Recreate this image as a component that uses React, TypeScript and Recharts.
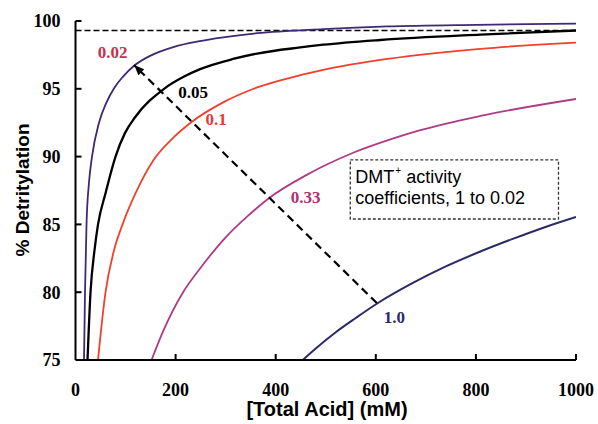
import React from 'react';
import { LineChart, Line, XAxis, YAxis, ReferenceLine, ReferenceDot, ReferenceArea, Label } from 'recharts';

const xTicks = [0, 200, 400, 600, 800, 1000];
const yTicks = [75, 80, 85, 90, 95, 100];

const x002 = [17, 19, 22, 27, 33, 47, 62, 78, 95, 117, 150, 197, 245, 295, 363, 495, 623, 800, 1000];
const y002 = [75, 80, 85, 88.1, 90, 92.5, 94.0, 95.1, 95.9, 96.7, 97.45, 98.1, 98.5, 98.8, 99.1, 99.4, 99.6, 99.72, 99.8];

const x005 = [24, 30, 38, 45, 60, 80, 99, 119, 177, 217, 249, 315, 363, 449, 495, 609, 809, 1000];
const y005 = [75, 80, 83.1, 85, 87.3, 90, 91.75, 92.9, 95.0, 95.9, 96.45, 97.2, 97.6, 98.05, 98.25, 98.6, 99.0, 99.3];

const x01 = [45, 60, 77, 94, 120, 155, 190, 232, 295, 363, 449, 495, 623, 809, 1000];
const y01 = [75, 80, 83.1, 85, 87.3, 89.7, 91.2, 92.55, 94.0, 95.1, 96.0, 96.4, 97.2, 97.95, 98.4];

const x033 = [152, 176, 215, 250, 300, 345, 389, 462, 556, 629, 689, 809, 1000];
const y033 = [75, 77.2, 80.0, 81.8, 84.05, 85.65, 87.0, 88.65, 90.3, 91.27, 91.95, 93.0, 94.25];

const x10 = [454, 480, 520, 560, 602, 675, 740, 809, 875, 942, 1000];
const y10 = [75, 75.85, 77.05, 78.1, 79.15, 80.7, 81.9, 83.0, 83.95, 84.85, 85.55];

const plateau = 99.3;
const arrowFrom = { x: 602, y: 79.2 };
const arrowTo = { x: 117, y: 96.75 };

const curveLabels = [
  { text: '0.02', x: 74, y: 97.7, color: '#C8304E' },
  { text: '0.05', x: 235, y: 94.7, color: '#000000' },
  { text: '0.1', x: 281, y: 92.7, color: '#E8383A' },
  { text: '0.33', x: 460, y: 87.0, color: '#B0306E' },
  { text: '1.0', x: 637, y: 78.1, color: '#2B2B6B' },
];

const boxX = [549, 965];
const boxY = [85.4, 89.76];

const toPts = (xs: number[], ys: number[]) => xs.map((x, i) => ({ x, y: ys[i] }));

const series = [
  { name: '0.02', data: toPts(x002, y002), color: '#3E2A72', w: 1.8 },
  { name: '0.05', data: toPts(x005, y005), color: '#000000', w: 2.3 },
  { name: '0.1', data: toPts(x01, y01), color: '#F0402C', w: 1.8 },
  { name: '0.33', data: toPts(x033, y033), color: '#B03A88', w: 1.8 },
  { name: '1.0', data: toPts(x10, y10), color: '#2A2A66', w: 2 },
];

const X_MARGIN = 23;
const Y_MARGIN = 15;
const TICK_LEN = 6;

const XTick = (p: any) => {
  const { x, y, payload } = p;
  const axisY = y - X_MARGIN;
  return (
    <g>
      {payload.value !== 0 && (
        <line x1={x} x2={x} y1={axisY} y2={axisY - TICK_LEN} stroke="#000" strokeWidth={2} />
      )}
      <text x={x} y={y} dy="0.71em" textAnchor="middle" fontFamily="Liberation Serif" fontWeight={700} fontSize={18} fill="#000">
        {payload.value}
      </text>
    </g>
  );
};

const YTick = (p: any) => {
  const { x, y, payload } = p;
  const axisX = x + Y_MARGIN;
  return (
    <g>
      {payload.value !== 75 && (
        <line x1={axisX} x2={axisX + TICK_LEN} y1={y} y2={y} stroke="#000" strokeWidth={2} />
      )}
      <text x={x} y={y} dy="0.355em" textAnchor="end" fontFamily="Liberation Serif" fontWeight={700} fontSize={18} fill="#000">
        {payload.value}
      </text>
    </g>
  );
};

const ArrowShape = (p: any) => {
  const { x1, y1, x2, y2 } = p;
  const ang = Math.atan2(y2 - y1, x2 - x1);
  const len = 11;
  const spread = 0.38;
  const ax = x2 - len * Math.cos(ang - spread);
  const ay = y2 - len * Math.sin(ang - spread);
  const bx = x2 - len * Math.cos(ang + spread);
  const by = y2 - len * Math.sin(ang + spread);
  return (
    <g>
      <line x1={x1} y1={y1} x2={x2} y2={y2} stroke="#000" strokeWidth={2.2} strokeDasharray="8 5" />
      <path d={`M${x2},${y2} L${ax},${ay} L${bx},${by} Z`} fill="#000" />
    </g>
  );
};

export default function App() {
  return (
    <div style={{ position: 'absolute', left: 0, top: 0, background: '#fff' }}>
      <LineChart width={598} height={424} margin={{ top: 21, right: 22, left: 0, bottom: 24 }}>
        <XAxis
          type="number"
          dataKey="x"
          domain={[0, 1000]}
          ticks={xTicks}
          allowDataOverflow
          height={40}
          tickSize={0}
          tickMargin={X_MARGIN}
          tick={<XTick />}
          tickLine={false}
          axisLine={{ stroke: '#000', strokeWidth: 2 }}
        >
          <Label
            content={() => (
              <text x={327} y={416} textAnchor="middle" fontFamily="Liberation Sans" fontWeight={700} fontSize={20} fill="#000">
                [Total Acid] (mM)
              </text>
            )}
          />
        </XAxis>
        <YAxis
          type="number"
          dataKey="y"
          domain={[75, 100]}
          ticks={yTicks}
          allowDataOverflow
          width={75.5}
          tickSize={0}
          tickMargin={Y_MARGIN}
          tick={<YTick />}
          tickLine={false}
          axisLine={{ stroke: '#000', strokeWidth: 2 }}
        >
          <Label
            content={() => (
              <text
                x={22}
                y={190}
                transform="rotate(-90 22 190)"
                textAnchor="middle"
                dominantBaseline="central"
                fontFamily="Liberation Sans"
                fontWeight={700}
                fontSize={19}
                fill="#000"
              >
                % Detritylation
              </text>
            )}
          />
        </YAxis>
        <ReferenceLine y={plateau} stroke="#000" strokeWidth={1.5} strokeDasharray="6 3" />
        {series.map((s) => (
          <Line
            key={s.name}
            data={s.data}
            dataKey="y"
            type="monotone"
            stroke={s.color}
            strokeWidth={s.w}
            dot={false}
            isAnimationActive={false}
          />
        ))}
        <ReferenceLine segment={[arrowFrom, arrowTo]} shape={ArrowShape} />
        <ReferenceArea
          x1={boxX[0]}
          x2={boxX[1]}
          y1={boxY[0]}
          y2={boxY[1]}
          fill="none"
          fillOpacity={0}
          stroke="#333"
          strokeWidth={1.3}
          strokeDasharray="3 2"
          label={(p: any) => {
            const vb = p.viewBox || {};
            const tx = (vb.x ?? 350) + 5;
            const ty = (vb.y ?? 160) + 23;
            return (
              <g fontFamily="Liberation Sans" fill="#000">
                <text x={tx} y={ty} fontSize={18}>DMT</text>
                <text x={tx + 40} y={ty - 9} fontSize={10}>+</text>
                <text x={tx + 51} y={ty} fontSize={18}>activity</text>
                <text x={tx} y={ty + 21} fontSize={18}>coefficients, 1 to 0.02</text>
              </g>
            );
          }}
        />
        {curveLabels.map((l) => (
          <ReferenceDot
            key={l.text}
            x={l.x}
            y={l.y}
            r={1}
            shape={(p: any) => (
              <text
                x={p.cx}
                y={p.cy}
                textAnchor="middle"
                dominantBaseline="central"
                fontFamily="Liberation Serif"
                fontWeight={700}
                fontSize={17}
                fill={l.color}
              >
                {l.text}
              </text>
            )}
          />
        ))}
      </LineChart>
    </div>
  );
}
